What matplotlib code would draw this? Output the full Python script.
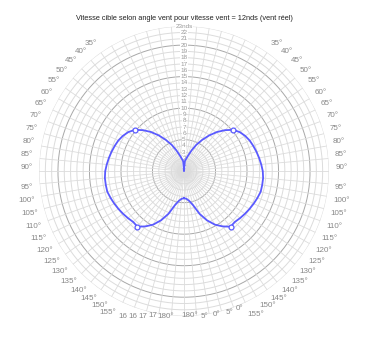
import numpy as np
import matplotlib
matplotlib.use("Agg")
import matplotlib.pyplot as plt

plt.rcParams['font.family'] = ['Liberation Sans', 'DejaVu Sans']

TITLE = "Vitesse cible selon angle vent pour vitesse vent = 12nds (vent réel)"

# true wind angle (deg) and target boat speed (knots), one side of the polar
twa = [0, 5, 10, 15, 20, 25, 30, 35, 40, 45, 50, 55, 60, 65, 70, 75, 80, 85, 90,
       95, 100, 105, 110, 115, 120, 125, 130, 135, 140, 145, 150, 155, 160, 165,
       170, 175, 180]
speed = [0.0, 1.6, 2.0, 2.6, 3.5, 4.6, 5.7, 6.9, 8.1, 9.2, 10.2, 10.8, 11.2, 11.5,
         11.7, 11.9, 12.1, 12.3, 12.5, 12.6, 12.6, 12.6, 12.4, 12.2, 12.0, 11.8,
         11.6, 11.4, 11.5, 10.7, 9.8, 8.6, 7.2, 5.6, 4.8, 4.4, 4.3]

# optimum VMG points (upwind / downwind)
opt_twa = [50, 140]
opt_speed = [10.2, 11.5]

rmax = 23
angle_ticks = list(range(35, 181, 5))
left_labels = {a: f"{a}°" for a in angle_ticks}
right_labels = {a: f"{a}°" for a in angle_ticks}
# labels overlap at the bottom of the chart and come out clipped
left_labels.update({160: "16", 165: "16", 170: "17", 175: "17"})
right_labels.update({160: "0°", 165: "5°", 170: "0°", 175: "5°"})

# bottom labels are squeezed together: (shown angle, radius) of the label centre
left_bottom = {155: (151.7, 25.4), 160: (157.2, 25.0), 165: (160.6, 24.4),
               170: (164.2, 23.9), 175: (167.9, 23.5), 180: (172.9, 23.2)}
right_bottom = {155: (153.3, 25.4), 160: (157.9, 23.6), 165: (162.3, 23.5),
                170: (167.0, 23.3), 175: (171.8, 23.3), 180: (177.6, 23.0)}

fig = plt.figure(figsize=(3.68, 3.54), dpi=100)
ax = fig.add_axes([0.106, 0.107, 0.788, 0.819], projection="polar")
ax.set_theta_zero_location("N")
ax.set_theta_direction(-1)
ax.set_ylim(0, rmax)
ax.grid(False)
ax.set_xticks([])
ax.set_yticks([])
ax.spines["polar"].set_visible(False)

light = "#dcdcdc"
dark = "#a8a8a8"
full = np.linspace(0, 2 * np.pi, 400)
for r in range(1, rmax + 1):
    c = dark if r % 5 == 0 else light
    ax.plot(full, np.full_like(full, r), color=c, lw=0.7, zorder=1)
for a in range(0, 360, 5):
    th = np.radians(a)
    ax.plot([th, th], [0, rmax], color=light, lw=0.6, zorder=1)

# radial labels along the top spoke
for r in range(1, rmax + 1):
    txt = f"{r}nds" if r == rmax else str(r)
    ax.text(0, r, txt, fontsize=4.6, color="#999999", ha="center", va="center",
            zorder=2, bbox=dict(facecolor="white", edgecolor="none", pad=0.2))

# angle labels on both sides
lab_kw = dict(fontsize=5.8, color="#888888", clip_on=False)
for a in angle_ticks:
    if a in left_bottom:
        th, r = left_bottom[a]
        ax.text(-np.radians(th), r, left_labels[a], ha="center", va="center", **lab_kw)
        th, r = right_bottom[a]
        ax.text(np.radians(th), r, right_labels[a], ha="center", va="center", **lab_kw)
        continue
    va = "bottom" if a <= 90 else "top"
    ax.text(np.radians(a), 24, right_labels[a], ha="left", va=va, **lab_kw)
    ax.text(-np.radians(a), 24, left_labels[a], ha="right", va=va, **lab_kw)

# polar curve, mirrored
ang = np.array(twa, dtype=float)
spd = np.array(speed)
theta = np.radians(np.concatenate([-ang[::-1], ang[1:]]))
rr = np.concatenate([spd[::-1], spd[1:]])
blue = "#5a5aff"
ax.plot(theta, rr, color=blue, lw=1.3, zorder=3)

oa = np.radians(np.array(opt_twa, dtype=float))
ax.plot(np.concatenate([oa, -oa]), opt_speed + opt_speed, "o", ms=3.5,
        mfc="white", mec=blue, mew=0.9, zorder=4)

fig.text(0.5, 0.948, TITLE, ha="center", va="center", fontsize=5.3, color="#222222")

fig.savefig("out.png", dpi=100)
